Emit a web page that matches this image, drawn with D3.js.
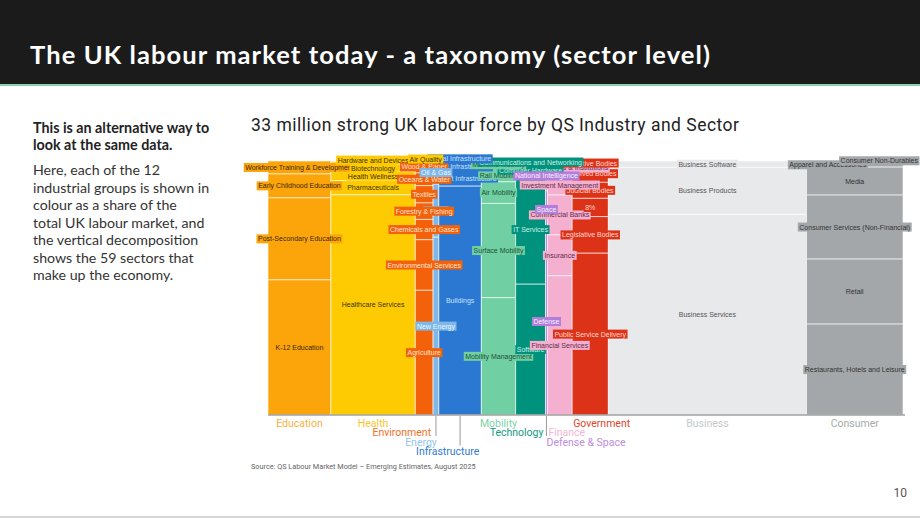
<!DOCTYPE html>
<html>
<head>
<meta charset="utf-8">
<script src="https://cdn.jsdelivr.net/npm/d3@7"></script>
<style>
  html, body { margin: 0; padding: 0; background: #fff; }
  svg { display: block; }
</style>
</head>
<body>
<svg id="chart" width="920" height="518"></svg>
<script>
// ---------------- DATA ----------------
const groups = ["Education","Health","Environment","Energy","Infrastructure","Mobility","Technology","Defense & Space","Finance","Government","Business","Consumer"];
const groupShares = [9.9, 13.3, 2.8, 0.9, 6.7, 5.4, 4.7, 0.3, 3.9, 5.7, 31.2, 15.2];

const educationSectors = ["Workforce Training & Development","Early Childhood Education","Post-Secondary Education","K-12 Education"];
const educationShares  = [5.1, 9.4, 32.3, 53.2];

const healthSectors = ["Air Quality","Hardware and Devices","Biotechnology","Health Wellness","Pharmaceuticals","Healthcare Services"];
const healthShares  = [0.4, 1.0, 2.8, 3.5, 5.6, 86.7];

const environmentSectors = ["Wood & Paper","Oceans & Water","Textiles","Forestry & Fishing","Chemicals and Gases","Environmental Services","Agriculture"];
const environmentShares  = [4.7, 5.0, 6.8, 6.5, 8.0, 19.9, 49.1];

const energySectors = ["Oil & Gas","Utilities","New Energy"];
const energyShares  = [9.1, 20.9, 70.0];

const infrastructureSectors = ["Social Infrastructure","Digital Infrastructure","Transport Infrastructure","Buildings"];
const infrastructureShares  = [1.0, 2.6, 6.3, 90.1];

const mobilitySectors = ["Maritime Mobility","Rail Mobility","Air Mobility","Surface Mobility","Mobility Management"];
const mobilityShares  = [2.9, 5.3, 8.5, 37.1, 46.2];

const technologySectors = ["Communications and Networking","Computer Hardware","IT Services","Software"];
const technologyShares  = [1.6, 3.9, 43.0, 51.5];

const defenseSectors = ["National Intelligence","Space","Defense"];
const defenseShares  = [11.8, 14.6, 73.6];

const financeSectors = ["Financial Markets & Institutions","Investment Management","Commercial Banks","Insurance","Financial Services"];
const financeShares  = [5.5, 7.9, 15.7, 16.1, 54.8];

const governmentSectors = ["Executive Bodies","Devolved Bodies","Judicial Bodies","8%","Legislative Bodies","Public Service Delivery"];
const governmentShares  = [1.6, 6.8, 6.3, 7.2, 14.4, 63.7];

const businessSectors = ["Business Software","Business Products","Business Services"];
const businessShares  = [2.5, 18.5, 79.0];

const consumerSectors = ["Consumer Non-Durables","Apparel and Accessories","Media","Consumer Services (Non-Financial)","Retail","Restaurants, Hotels and Leisure"];
const consumerShares  = [0.6, 1.8, 11.0, 25.2, 25.6, 35.8];

const sectorsByGroup = [educationSectors, healthSectors, environmentSectors, energySectors, infrastructureSectors, mobilitySectors, technologySectors, defenseSectors, financeSectors, governmentSectors, businessSectors, consumerSectors];
const sharesByGroup  = [educationShares, healthShares, environmentShares, energyShares, infrastructureShares, mobilityShares, technologyShares, defenseShares, financeShares, governmentShares, businessShares, consumerShares];

// ---------------- STYLE / LAYOUT CONFIG ----------------
const fillColors = ["#FBA50B","#FECB02","#F4610B","#7DB8E8","#2A78D1","#70D0A4","#00927D","#B27EDB","#F5AFCF","#DC3318","#E8E9EB","#A3A7AA"];
const labelTextColors = ["#3b2600","#3d3200","#FFE3D1","#EEF6FD","#C9E0FA","#1E4F38","#CDEFE6","#F6EEFF","#5E2E4C","#FFD9CF","#555555","#333333"];
const legendColors = ["#F8B03F","#F6C62E","#F1702A","#96C5EE","#2F7BD3","#7AD2A8","#159A83","#C08BE2","#F5B6D3","#E0452B","#C6C8CA","#A7AAAC"];
const legendRow    = [0,0,1,2,3,0,1,2,1,0,0,0];
const legendAnchor = ["middle","middle","end","end","end","middle","end","start","start","start","middle","middle"];
const legendLeader = [false,false,false,true,true,false,false,true,false,false,false,false];

const svg = d3.select("#chart");
const W = 920, H = 518;

svg.append("rect").attr("width", W).attr("height", H).attr("fill", "#fff");

// header
svg.append("rect").attr("x",0).attr("y",0).attr("width",W).attr("height",84).attr("fill","#1b1b1b");
svg.append("text")
  .attr("x", 30).attr("y", 64)
  .attr("fill", "#fff")
  .attr("font-family", "Lato, 'Open Sans', sans-serif")
  .attr("font-weight", 700)
  .attr("font-size", 25.5)
  .attr("textLength", 680).attr("lengthAdjust", "spacing")
  .text("The UK labour market today - a taxonomy (sector level)");
svg.append("line").attr("x1",0).attr("x2",W).attr("y1",85).attr("y2",85)
  .attr("stroke","#62c196").attr("stroke-width",1.5);

// left text
const leftBold = ["This is an alternative way to", "look at the same data."];
const leftBody = ["Here, each of the 12","industrial groups is shown in","colour as a share of the","total UK labour market, and","the vertical decomposition","shows the 59 sectors that","make up the economy."];
svg.append("g").selectAll("text").data(leftBold).join("text")
  .attr("x", 33).attr("y", (d,i) => 132.5 + i*17)
  .attr("font-family", "Lato, sans-serif").attr("font-weight", 700).attr("font-size", 14.3)
  .attr("fill", "#222").text(d => d);
svg.append("g").selectAll("text").data(leftBody).join("text")
  .attr("x", 33).attr("y", (d,i) => 175 + i*17.5)
  .attr("font-family", "Lato, sans-serif").attr("font-weight", 400).attr("font-size", 14.2)
  .attr("fill", "#333").text(d => d);

// chart title
svg.append("text")
  .attr("x", 251).attr("y", 131)
  .attr("font-family", "Roboto, 'Liberation Sans', sans-serif")
  .attr("font-weight", 400).attr("font-size", 17.5).attr("fill", "#222")
  .attr("textLength", 488).attr("lengthAdjust", "spacing")
  .text("33 million strong UK labour force by QS Industry and Sector");

// scales
const x = d3.scaleLinear().domain([0, d3.sum(groupShares)]).range([268, 903]);
const y = d3.scaleLinear().domain([0, 100]).range([161, 415]);

// build layout
const cols = [];
let cum = 0;
groups.forEach((g, i) => {
  const x0 = x(cum), x1 = x(cum + groupShares[i]);
  cum += groupShares[i];
  let c2 = 0;
  const segs = sectorsByGroup[i].map((s, j) => {
    const v = sharesByGroup[i][j];
    const seg = { name: s, gi: i, y0: y(c2), y1: y(c2 + v), x0, x1, abs: v * groupShares[i] };
    c2 += v;
    return seg;
  });
  cols.push({ name: g, i, x0, x1, segs });
});

// segments
const gSeg = svg.append("g");
cols.forEach(c => {
  gSeg.selectAll(null).data(c.segs).join("rect")
    .attr("x", d => d.x0).attr("y", d => d.y0)
    .attr("width", d => Math.max(0.5, d.x1 - d.x0)).attr("height", d => d.y1 - d.y0)
    .attr("fill", fillColors[c.i])
    .attr("stroke", "rgba(255,255,255,0.6)").attr("stroke-width", 1);
});

// axis baseline
const axis = d3.axisBottom(x).ticks(0).tickSize(0).tickFormat("");
svg.append("g").attr("transform", "translate(0,415)").call(axis)
  .call(g => g.select(".domain").attr("stroke", "#a0a0a0").attr("stroke-width", 1.6).attr("d", "M268,0H905"));

// labels
const gLab = svg.append("g");
const LH = 8, MINY = 157, FS = 7;
const allLabs = [];
cols.forEach(c => {
  const cx = (c.x0 + c.x1) / 2;
  const labs = c.segs.map(s => {
    const g = gLab.append("g");
    const r = g.append("rect").attr("fill", fillColors[c.i]);
    const t = g.append("text")
      .attr("font-family", "'Liberation Sans', Arial, sans-serif")
      .attr("font-size", FS)
      .attr("fill", labelTextColors[c.i])
      .attr("text-anchor", "middle")
      .attr("dominant-baseline", "central")
      .text(s.name);
    const w = t.node().getComputedTextLength();
    return { g, r, t, w, cy: (s.y0 + s.y1) / 2, x: cx, y: 0, abs: s.abs };
  });
  // bottom-up vertical de-overlap; squeezed labels slide sideways
  for (let j = labs.length - 1; j >= 0; j--) {
    const L = labs[j];
    if (j === labs.length - 1) { L.y = L.cy; continue; }
    const N = labs[j + 1];
    const yy = Math.min(L.cy, N.y - LH);
    if (yy < MINY) {
      L.y = Math.max(MINY + 2, N.y - 4);
      L.x = N.x + N.w / 2 + 1 + L.w / 2;
      const over = L.x + L.w / 2 - 918;
      if (over > 0) { L.x -= over; N.x -= over / 2; }
    } else {
      L.y = yy;
    }
  }
  labs.forEach(L => allLabs.push(L));
});
allLabs.forEach(L => {
  L.r.attr("x", L.x - L.w / 2 - 1.5).attr("y", L.y - 4.5)
    .attr("width", L.w + 3).attr("height", 9);
  L.t.attr("x", L.x).attr("y", L.y);
});
// draw order: larger sectors first, smaller sectors on top
allLabs.slice().sort((a, b) => b.abs - a.abs).forEach(L => L.g.raise());

// legend
const rowY = [423, 432.5, 442, 451.5];
const gLeg = svg.append("g");
cols.forEach(c => {
  const a = legendAnchor[c.i];
  const lx = a === "middle" ? (c.x0 + c.x1) / 2 : a === "end" ? c.x1 - 2 : c.x0 + 1;
  const ly = rowY[legendRow[c.i]];
  if (legendLeader[c.i]) {
    const xl = (c.x0 + c.x1) / 2;
    gLeg.append("line").attr("x1", xl).attr("x2", xl).attr("y1", 416).attr("y2", ly - 6)
      .attr("stroke", "#9a9a9a").attr("stroke-width", 1);
  }
  gLeg.append("text")
    .attr("x", lx).attr("y", ly)
    .attr("text-anchor", a)
    .attr("dominant-baseline", "central")
    .attr("font-family", "Roboto, 'Liberation Sans', sans-serif")
    .attr("font-size", 10.5)
    .attr("fill", legendColors[c.i])
    .text(c.name);
});

// source
svg.append("text").attr("x", 251).attr("y", 469)
  .attr("font-family", "Roboto, 'Liberation Sans', sans-serif")
  .attr("font-size", 7.3).attr("fill", "#666")
  .text("Source: QS Labour Market Model – Emerging Estimates, August 2025");

// page number and footer line
svg.append("text").attr("x", 907).attr("y", 497).attr("text-anchor", "end")
  .attr("font-family", "Roboto, 'Liberation Sans', sans-serif")
  .attr("font-size", 12).attr("fill", "#555").text("10");
svg.append("line").attr("x1", 0).attr("x2", W).attr("y1", 517).attr("y2", 517)
  .attr("stroke", "#c8c8c8").attr("stroke-width", 1.5);
</script>
</body>
</html>
